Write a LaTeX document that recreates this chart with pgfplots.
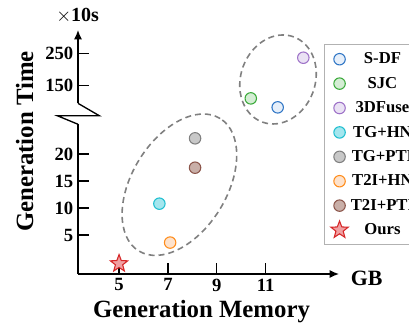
\documentclass[border=0pt]{standalone}
\usepackage{fontspec}
\setmainfont{Liberation Serif}
\usepackage{pgfplots}
\pgfplotsset{compat=1.18}
\usetikzlibrary{arrows.meta}

\definecolor{cSDF}{HTML}{2E75C5}\definecolor{fSDF}{HTML}{E6EFFA}
\definecolor{cSJC}{HTML}{3AAA3A}\definecolor{fSJC}{HTML}{D4EDD4}
\definecolor{cTD}{HTML}{9E72C8}\definecolor{fTD}{HTML}{EAE2F4}
\definecolor{cTGHN}{HTML}{1FBFD0}\definecolor{fTGHN}{HTML}{A4E6EE}
\definecolor{cTGPTI}{HTML}{808080}\definecolor{fTGPTI}{HTML}{C8C8C8}
\definecolor{cTIHN}{HTML}{FF8C1A}\definecolor{fTIHN}{HTML}{FDE2CC}
\definecolor{cTIPTI}{HTML}{8C564B}\definecolor{fTIPTI}{HTML}{C9AFA8}
\definecolor{cOurs}{HTML}{D62728}\definecolor{fOurs}{HTML}{F0A0A2}

\pgfdeclareplotmark{fivestar}{%
  \pgfpathmoveto{\pgfqpointpolar{90}{\pgfplotmarksize}}%
  \pgfpathlineto{\pgfqpointpolar{126}{0.42\pgfplotmarksize}}%
  \pgfpathlineto{\pgfqpointpolar{162}{\pgfplotmarksize}}%
  \pgfpathlineto{\pgfqpointpolar{198}{0.42\pgfplotmarksize}}%
  \pgfpathlineto{\pgfqpointpolar{234}{\pgfplotmarksize}}%
  \pgfpathlineto{\pgfqpointpolar{270}{0.42\pgfplotmarksize}}%
  \pgfpathlineto{\pgfqpointpolar{306}{\pgfplotmarksize}}%
  \pgfpathlineto{\pgfqpointpolar{342}{0.42\pgfplotmarksize}}%
  \pgfpathlineto{\pgfqpointpolar{18}{\pgfplotmarksize}}%
  \pgfpathlineto{\pgfqpointpolar{54}{0.42\pgfplotmarksize}}%
  \pgfpathclose
  \pgfusepathqfillstroke
}

\pgfplotsset{
  common/.style={
    scale only axis, width=195.75pt,
    xmin=3.32, xmax=14.0,
    clip=false,
    tick align=inside,
    major tick length=8pt,
    tick style={line width=1pt, black},
    ticklabel style={font=\bfseries\fontsize{14}{14}\selectfont},
    /pgf/number format/assume math mode=true,
    axis line style={line width=1pt},
  },
  pt/.style n args={2}{only marks, mark=*, mark size=4.3pt, draw=#1, fill=#2, line width=0.8pt},
}

\begin{document}
\begin{tikzpicture}[x=1pt,y=1pt]
\begin{axis}[common, at={(58.5pt,36pt)}, anchor=south west, height=112.3pt,
  ymin=-2.22, ymax=25.5,
  axis x line*=bottom, axis y line*=left,
  x axis line style={-{Latex[length=7pt,width=6pt]}},
  xtick={5,7,9,11}, ytick={5,10,15,20},
  legend cell align=center,
  legend style={at={(0.9425,1.536)}, anchor=north west, draw=black!30, line width=0.8pt,
    font=\bfseries\fontsize{12.5}{12.5}\selectfont, row sep=3.3pt, inner xsep=4.8pt, inner ysep=3.5pt,
    nodes={inner sep=2pt, text height=9pt, text depth=2pt}},
  ]
\addlegendimage{pt={cSDF}{fSDF}}
\addlegendentry{S-DF}
\addlegendimage{pt={cSJC}{fSJC}}
\addlegendentry{SJC}
\addlegendimage{pt={cTD}{fTD}}
\addlegendentry{3DFuse}
\addplot[pt={cTGHN}{fTGHN}] coordinates {(6.65,10.8)};
\addlegendentry{TG+HN}
\addplot[pt={cTGPTI}{fTGPTI}] coordinates {(8.11,22.9)};
\addlegendentry{TG+PTI}
\addplot[pt={cTIHN}{fTIHN}] coordinates {(7.09,3.6)};
\addlegendentry{T2I+HN}
\addplot[pt={cTIPTI}{fTIPTI}] coordinates {(8.11,17.46)};
\addlegendentry{T2I+PTI}
\addplot[only marks, mark=fivestar, mark size=6.8pt, draw=cOurs, fill=fOurs, line width=0.8pt] coordinates {(5.0,-0.3)};
\addlegendentry{Ours}
\end{axis}

\begin{axis}[common, at={(58.5pt,164pt)}, anchor=south west, height=55pt,
  ymin=95.7, ymax=321.9,
  axis x line=none, axis y line*=left,
  y axis line style={-{Latex[length=7pt,width=6pt]}},
  ytick={150,250}]
\addplot[pt={cSDF}{fSDF}] coordinates {(11.49,83.3)};
\addplot[pt={cSJC}{fSJC}] coordinates {(10.39,111)};
\addplot[pt={cTD}{fTD}] coordinates {(12.54,236.4)};
\end{axis}

% axis break
\draw[line width=1pt] (58.5,164) -- (74.5,154.7) -- (43,154.7) -- (58.5,148.3);

% group ellipses
\draw[gray, line width=1.2pt, dash pattern=on 4.5pt off 3pt, rotate around={58.4:(134.55,102.98)}]
  (134.55,102.98) ellipse [x radius=58.3, y radius=35.5];
\draw[gray, line width=1.2pt, dash pattern=on 4.5pt off 3pt, rotate around={69.7:(208.5,181.9)}]
  (208.5,181.9) ellipse [x radius=34.05, y radius=27.9];

% labels
\node[font=\bfseries\fontsize{18.6}{18.6}\selectfont, anchor=base] at (151.1,3.5) {Generation Memory};
\node[rotate=90, anchor=base, font=\bfseries\fontsize{18.6}{18.6}\selectfont] at (24.75,135.4) {Generation Time};
\node[font=\bfseries\fontsize{16.4}{16.4}\selectfont] at (275,32.8) {GB};
\node[font=\bfseries\fontsize{15}{15}\selectfont, anchor=base west, inner sep=0pt] at (42,225.2) {$\times$10s};

\pgfresetboundingbox
\useasboundingbox (0,0) rectangle (306.75,241.5);
\end{tikzpicture}
\end{document}
